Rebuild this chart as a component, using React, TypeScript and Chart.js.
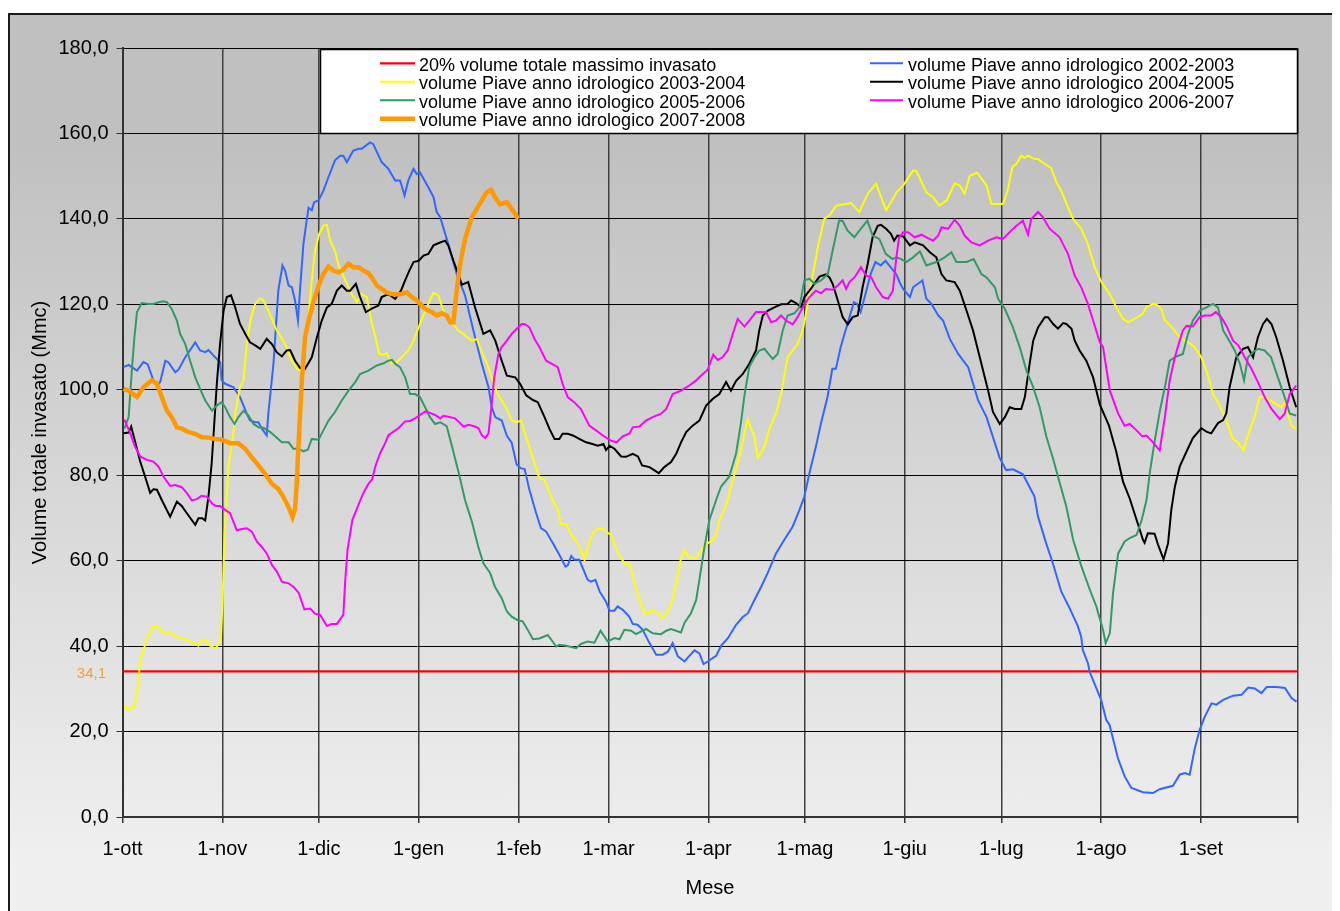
import React, { useEffect, useRef } from "react";
import { Chart, registerables } from "chart.js";

Chart.register(...registerables);

type Pt = [number, number];

// Hydrological year axis: days counted from 1 October
const monthStartDays = [0, 31, 61, 92, 123, 151, 182, 212, 243, 273, 304, 335, 365];
const monthLabels = ["1-ott", "1-nov", "1-dic", "1-gen", "1-feb", "1-mar", "1-apr", "1-mag", "1-giu", "1-lug", "1-ago", "1-set", ""];

const yMin = 0;
const yMax = 180;
const yStep = 20;

const thresholdLevel = 34.1;
const thresholdLabel = "34,1";

const seriesNames = [
  "20% volume totale massimo invasato",
  "volume Piave anno idrologico 2002-2003",
  "volume Piave anno idrologico 2003-2004",
  "volume Piave anno idrologico 2004-2005",
  "volume Piave anno idrologico 2005-2006",
  "volume Piave anno idrologico 2006-2007",
  "volume Piave anno idrologico 2007-2008",
];
const seriesColors = ["#ff0000", "#3366ff", "#ffff00", "#000000", "#339966", "#ff00ff", "#ff9900"];
const seriesWidths = [2.2, 2, 2, 2, 2, 2, 4.5];

const threshold: Pt[] = [[0, thresholdLevel], [365, thresholdLevel]];

const piave0203: Pt[] = [
  [0.3,105.3],[1.9,105.8],[4.5,104.5],[6.5,106.5],[7.8,106],[9.6,102.2],[10.7,101],[11.7,101.8],[13.3,106.8],[14.3,106.4],
  [16.4,104.1],[17.4,104.7],[19.5,107.6],[22.6,111.1],[24.1,109.2],[25.7,108.8],[26.7,109.3],[28.8,107.6],[30.3,106.5],[30.8,102.2],
  [31.9,101.4],[34.5,100.6],[36.5,98.3],[38.6,94.4],[39.6,92.8],[41.2,92.4],[42.2,92.4],[43.3,90.9],[44.8,89.3],[45.3,94.4],
  [46.9,106.1],[48.4,123.2],[49.7,129.1],[50.5,127.9],[51.6,124.4],[52.6,124],[53.6,120.9],[54.5,116.2],[55.2,124],[56.2,134.1],
  [57.2,139.6],[57.8,142.6],[58.8,142],[59.5,143.9],[60.9,144.3],[62.4,146.6],[64,149.8],[66,153.7],[67.6,154.8],[68.6,154.8],
  [69.7,153.3],[71.7,156],[73.3,156.4],[74.3,156.4],[76.9,157.9],[77.9,157.5],[80.5,153.3],[82.6,151.7],[84.7,149],[86.2,149],
  [86.7,147.8],[87.6,145.5],[88.8,149],[90.4,151.7],[91.4,150.5],[92.4,150.9],[95,147.4],[96.6,145.1],[97.6,141.6],[98.7,140.4],
  [101.2,134.1],[103.8,127.1],[106.4,122.1],[109,113.9],[111.6,106.1],[113.7,100.6],[114.7,95.9],[115.8,93.6],[117.8,92.8],[119.4,89.2],
  [120.9,87.6],[122.4,82.6],[123.8,81.6],[124.9,81.5],[126.4,76.6],[128.5,71.1],[130,67.6],[131.6,66.8],[133.7,64.1],[135.7,61.4],
  [137.6,58.6],[138.3,58.9],[139.4,61.1],[140.4,60.2],[141.9,60.2],[144.5,55.5],[145.5,55.1],[146.9,55.5],[148.2,52.8],[150.2,50.4],
  [151.3,48.3],[152.8,48.3],[153.8,49.3],[155.4,48.5],[157.4,46.9],[158.5,45.2],[160,45],[161.6,43.8],[163.7,40.7],[165.8,38],
  [167.8,38],[169.4,38.7],[170.9,40.7],[172.5,37.6],[174.6,36.4],[176.1,37.7],[177.7,39],[179.2,38.3],[180.5,35.8],[181.8,36.4],
  [184.4,37.7],[186,40.1],[188.1,41.9],[190.6,45],[192.7,46.8],[194.3,47.7],[196.3,50.8],[198.4,53.9],[200.4,57.1],[203,61.7],
  [205.6,64.9],[208.2,68],[210.3,71.9],[211.8,75],[213.4,80.5],[215.4,86.7],[217,92.2],[219,98.3],[220.5,104.9],[221.6,104.9],
  [223.1,110],[225.2,115.4],[227.2,120.5],[228.2,120.1],[229.3,118.2],[230.8,122.4],[232.4,127.1],[233.9,129.9],[235.5,129.1],[237,130.2],
  [238.6,128.7],[240.4,127],[241.5,125],[242.5,123.6],[244.6,121.7],[245.6,124],[248.5,125.6],[249.7,121.3],[251.3,120.1],[253.4,117.4],
  [254.9,116.2],[257,111.9],[259.6,108.4],[262.7,105.3],[265.8,97.5],[268.4,93.6],[272.5,84],[274.5,81.2],[276.6,81.4],[279.7,80.2],
  [281.8,77.2],[283.3,75],[284.4,70.3],[286.9,64.1],[289,59.4],[291.6,52.8],[294.2,48.9],[296.8,44.6],[297.8,42.2],[298.3,39.1],
  [299.9,36],[300.4,34.1],[301.9,31.3],[304,27.4],[305.6,22.7],[306.6,21.6],[309.2,13.8],[311.3,9.5],[313.4,6.8],[317,5.8],
  [320.1,5.6],[322.2,6.5],[326.3,7.3],[328.4,9.9],[330,10.3],[331.5,9.9],[333.1,16.1],[334.6,20.4],[336.2,23.5],[338.3,26.6],
  [339.8,26.3],[341.9,27.4],[345,28.4],[347.6,28.6],[349.7,30.3],[351.7,30.1],[353.8,29],[355.4,30.4],[358.5,30.4],[361.1,30.2],
  [363.2,27.8],[364.7,27],
];

const piave0304: Pt[] = [
  [0.6,26.3],[1.7,24.9],[2.7,25.7],[3.7,25.7],[4.8,30.5],[5.5,36.8],[6.5,39.1],[7.9,42.2],[9.6,44.7],[11.2,44.4],
  [12.7,43],[14.8,43],[16.4,42.4],[17.9,41.9],[19.5,41.6],[22,40.7],[23.6,40.1],[24.8,41.5],[25.9,41.3],[27.2,40.1],
  [28.8,39.5],[29.8,40.3],[30.6,42.2],[31.1,50.8],[31.7,66.4],[32.9,82],[34.2,88.3],[35,94.4],[36.5,100.6],[37.6,102.2],
  [38.6,110.7],[39.7,116.2],[41.2,120.1],[42.8,121.4],[43.8,120.9],[45.3,118.5],[47.9,113.9],[50.5,110.7],[52.6,106.8],[54.1,104.9],
  [55.2,104.5],[56.2,106.8],[57.8,117],[58.8,125.6],[59.8,132.6],[61.1,136.5],[62.4,138.4],[63.5,138.6],[64.5,134.9],[66,132.6],
  [67.1,129.1],[69.2,125.6],[71.2,122.4],[72.8,120.5],[74.3,122.4],[75.9,121.7],[77.5,115.4],[78.6,112.3],[79.7,108.4],[81.1,108.2],
  [82.1,108.6],[83.6,106.1],[85.2,106.5],[86.7,107.6],[88.8,109.2],[90.4,111.5],[92.4,115.4],[94.5,119.3],[96.6,122.7],[98.1,122.1],
  [99.7,118.5],[101.8,116.2],[104.3,113.9],[106.4,112.7],[108.5,111.5],[110.1,111.9],[111.6,108.8],[113.2,106.1],[114.7,102.9],[116.3,99.4],
  [117.8,97.5],[119.4,95.5],[120.9,92.8],[122.5,92.4],[123.8,92.8],[125.4,89],[127.5,84],[129.5,79.3],[131.1,78.9],[133.1,75],
  [135.2,71.9],[136.2,68.6],[137.8,68.4],[139.8,65.6],[141.4,64.1],[143.5,60.2],[145,64.5],[146.6,67.1],[148.7,67.6],[150.2,66.8],
  [151.8,66],[153.9,61.7],[156,59.3],[157.5,59.3],[159.1,54.7],[160.6,50.8],[162.2,47.9],[163.2,47.6],[164.7,48.5],[166.3,47.7],
  [167.8,46.5],[169.4,48.1],[170.9,50.8],[172,54.7],[173.5,60.6],[174.6,62.5],[175.9,60.8],[178.2,60.6],[179.7,62.5],[181.3,63.9],
  [182.8,64.5],[184.4,66],[185.4,69.5],[187.4,72.7],[189,77.3],[190.6,81.6],[192.1,85.9],[193.2,89.8],[194.2,93.1],[196.3,89],
  [197.3,84],[199.4,86.7],[201,90.9],[203,94.4],[204.6,99],[206.6,107.6],[208.2,109.2],[209.7,110.7],[211.3,113.9],[212.3,117.8],
  [213.9,124.8],[216,133.4],[218,140],[219.6,140.8],[221.7,143.1],[224.8,143.5],[226.3,143.7],[228.9,141.6],[231.5,145.9],[234.1,148.2],
  [237.2,142],[238.7,143.9],[240.6,146.4],[242.5,147.8],[245.6,151.3],[246.6,151.2],[249.7,146.2],[251.8,145.1],[253.7,143.1],[256,144.3],
  [258.5,148.3],[260.1,147.8],[261.6,145.9],[263.2,150.1],[265.5,150.8],[268.4,147.8],[269.9,143.5],[273.5,143.5],[275.1,147],[276.4,152.1],
  [277.7,152.9],[279.2,154.8],[280.3,154.3],[281.3,154.8],[283.4,154],[284.4,154],[286.4,152.9],[288.5,151.9],[290.1,148.6],[291.6,146.6],
  [293.7,142.7],[295.3,140],[297.8,137.7],[299.9,134.1],[302,128.7],[304.1,125.2],[306.7,122.4],[308.7,119.3],[310.8,116.6],[312.4,115.8],
  [314.9,116.8],[317,117.9],[318,119.3],[320.1,120.1],[321.2,120],[322.7,118.9],[323.7,116.4],[326.3,114.3],[328.4,112.3],[331,111.1],
  [333,110],[335.1,107.6],[337.1,103.7],[338.7,99],[340.3,97.1],[342.4,93.6],[344.9,88.5],[346.5,87.7],[348.2,85.8],[350.1,90.5],
  [351.7,93.6],[353.2,98.3],[354.8,98.4],[356.4,97.5],[358.4,96.7],[360,95.9],[361,97.1],[362,94.4],[363.1,91.6],[364.6,90.9],
];

const piave0405: Pt[] = [
  [0.3,89.8],[1.9,90],[2.7,91.4],[3.9,87.9],[5.5,83.2],[7,79.7],[8.6,75.9],[9.6,76.7],[10.7,76.6],[12.2,74.2],
  [14.8,70.3],[16.9,73.8],[18.4,72.8],[20,71.1],[22.6,68.4],[23.6,69.9],[24.8,69.9],[25.7,69.4],[26.7,75],[27.7,82.8],
  [28.5,92],[29.3,101.4],[30.3,110.7],[31.4,118.5],[32.4,121.7],[33.7,122.1],[35,119.3],[36.5,115.4],[38.1,113.1],[39.6,111.1],
  [41.2,110.4],[42.8,109.6],[44.8,111.9],[46.4,110.7],[47.9,108.8],[49.5,107.8],[51,109.2],[52.1,109.3],[53.6,106.8],[55.2,105.1],
  [56.7,104.9],[58.8,107.6],[60.4,112.3],[61.9,116.2],[63.5,119.3],[65,120.1],[66.6,123.2],[68.1,124.4],[69.7,123.2],[70.7,123.2],
  [72.5,124.8],[73.8,121.7],[75.6,118.2],[77.4,119],[79.5,119.7],[80.5,121.7],[82.6,122.4],[84.7,121.3],[86.5,123.2],[87.8,125.6],
  [89.1,127.9],[90.4,129.9],[92,130.2],[93.5,131.4],[95,131.8],[96.6,133.8],[98.1,134.3],[100.2,134.9],[101.2,133.8],[102.8,130.2],
  [104.3,127.1],[105.4,124.6],[107.4,125.2],[109.5,119.3],[112.1,113.1],[114.2,113.9],[115.8,111.5],[117.8,106.8],[119.4,103.3],[122,102.9],
  [123.5,101.4],[125.4,98.7],[127.5,97.6],[129,97.1],[131.1,93.6],[132.6,90.9],[134.2,88.5],[135.7,88.5],[136.7,89.7],[138.3,89.7],
  [139.9,89.3],[141.9,88.5],[144,87.7],[146,87.3],[147.6,86.9],[149.4,87.3],[150.2,85.9],[151.3,86.9],[152.8,86.2],[154.9,84.4],
  [156.4,84.3],[158.5,85],[160.1,84.4],[161.4,82.3],[163.7,81.9],[166.6,80.5],[168.3,81.9],[170.4,83.1],[172,85],[173.5,87.7],
  [175.1,90.1],[177.1,91.6],[179.2,92.8],[181.3,96.3],[183.4,97.9],[185.4,99],[187.5,101.8],[189,99.8],[190.6,102.1],[192.7,103.7],
  [194.7,106.1],[196.8,109.2],[197.8,113.9],[198.9,117.4],[200.4,118.5],[202.5,119.3],[204.6,120],[206.6,120.1],[207.7,120.9],[209.2,120.3],
  [210.8,119.3],[211.8,121.7],[213.4,123.2],[214.9,124.8],[216.5,126.5],[218.5,127],[219.6,126.3],[220.6,124.8],[222.2,120.9],[223.7,117],
  [225.3,115.3],[226.8,117],[228.4,117.4],[229.9,124],[231.5,129.5],[233,135.7],[234.6,138.4],[235.6,138.6],[237.2,137.7],[238.7,136.5],
  [239.7,134.9],[240.7,136.1],[242.5,135.9],[244.6,133.8],[246.1,134.5],[248.7,133.8],[250.8,132.2],[252.8,131],[254.4,127.1],[255.9,125.6],
  [258.5,125.2],[260.1,123.2],[262.2,118.5],[264.2,113.9],[266.3,107.6],[268.9,99.8],[270.4,94.8],[272.5,92],[274.1,93.6],[275.6,95.9],
  [277.2,95.5],[279.2,95.5],[280.3,98.3],[281.8,106.1],[282.9,111.5],[284.4,114.6],[286.5,117],[287.5,117],[289.1,115.4],[290.6,114.3],
  [292.2,115.6],[293.2,115.4],[294.8,114.3],[295.8,111.5],[297.3,109.2],[299.4,106.8],[301.5,102.9],[303.6,96.5],[306.4,91.7],[308.7,85.5],
  [310.8,78.5],[312.9,74.5],[314.9,69.8],[317,64.9],[317.5,64.2],[318.5,66.4],[320.6,66.3],[321.7,63.7],[323.4,60.3],[324.8,64.1],
  [325.8,71.9],[326.9,77.3],[328.4,82],[330.5,85.5],[332.5,88.7],[335.1,91],[336.7,90.2],[338.2,89.8],[340.3,92.2],[341.9,92.9],
  [342.9,94.5],[343.9,100.6],[346,107.6],[348.1,109.6],[349.6,110],[351.2,107.6],[352.7,112.3],[354.3,115.4],[355.5,116.6],[356.9,115.4],
  [358.4,112.3],[360.5,106.8],[362.6,100.6],[364.6,95.9],
];

const piave0506: Pt[] = [
  [0.6,90.9],[1.9,93.6],[2.9,104.5],[3.7,112.3],[4.5,118.2],[6,120.3],[8.1,120.1],[9.6,120.1],[11.2,120.5],[12.7,120.7],
  [13.8,120.5],[15.3,118.9],[16.9,116.2],[17.9,113.1],[19.5,110.7],[21,106.8],[22.6,102.9],[24.1,100.2],[25.7,97.5],[27.8,95.1],
  [29.3,96.3],[30.8,97.1],[31.9,95.9],[33.4,93.6],[34.8,92],[36,93.6],[37.6,95.1],[39.1,94],[40.7,92],[42.3,91.2],
  [43.8,91.1],[45.9,90.1],[47.4,89.1],[49.5,87.7],[51.6,87.7],[53.1,86.2],[54.7,86.2],[56.2,85.6],[57.6,86],[58.8,88.5],
  [60.9,88.3],[62.4,90.5],[64,92.8],[66,94.8],[68.1,97.5],[70.2,99.8],[72.3,101.8],[73.8,103.7],[76.4,104.5],[79,105.7],
  [81.1,106.2],[82.6,106.8],[83.7,107],[84.7,106.1],[86.2,105.3],[87.8,102.9],[89.3,99],[90.9,99],[92.4,98.3],[94,95.9],
  [95.5,93.6],[97.1,92],[98.7,92.4],[100.7,91.5],[102.5,86.3],[104.5,80.4],[106.4,74.2],[108.5,69.2],[110.5,63.3],[112.1,59.4],
  [114.2,57.1],[115.7,53.9],[117.8,51.2],[119.4,48.1],[120.9,46.9],[122.9,46],[124.3,45.8],[125.9,43.8],[127.5,41.6],[129.5,41.8],
  [132.1,42.6],[133.1,41.6],[134.7,39.9],[135.7,40.3],[137.8,40.1],[140.9,39.5],[142.4,40.5],[144.5,41.1],[146.6,40.8],[148.5,43.6],
  [150.7,41.1],[152.8,41.9],[154.4,41.6],[155.9,43.8],[158,43.6],[159.5,42.8],[162.6,44],[164.7,43],[167.3,42.8],[168.9,43.6],
  [170.4,44],[173.5,43.2],[174.6,45.5],[176.6,47.7],[178.2,50.8],[179.2,55.5],[180.8,63.3],[182.3,69.5],[184.4,74.2],[185.9,77.3],
  [188.5,79.7],[190.6,85.1],[192.1,92.2],[193.2,98.7],[194.7,105.3],[196.3,107.6],[197.8,109.2],[199.4,109.6],[202,107.2],[203.5,108.4],
  [205.1,113.9],[206.6,117.4],[208.7,117.9],[210.3,119.3],[211.8,125.6],[213.4,126],[214.9,124.8],[217,125.6],[219.1,127.1],[220.6,132.6],
  [222.6,139.6],[223.7,139.5],[225.2,137.3],[227.3,135.7],[229.4,137.7],[231.4,139.6],[233,136.1],[235.1,135.3],[237.1,131.8],[239.2,130.6],
  [240.4,131],[241.9,130.6],[243.5,129.9],[245.6,131],[247.7,132.4],[249.7,129.1],[252.8,129.9],[255.4,131],[257.5,132.2],[259,129.9],
  [262.2,129.9],[264.4,130.6],[266.8,127.1],[268.4,126.3],[271,124],[272,121.3],[274.1,118.9],[276.6,114.6],[278.7,110],[280.8,104.5],
  [282.9,100.6],[284.9,95.9],[287,89],[289.1,83.8],[291.1,78.3],[293.2,72.6],[295.3,64.9],[297.9,58.6],[300.5,53.2],[302.5,49.3],
  [304.6,43.8],[305.4,40.7],[306.7,43],[307.7,52.4],[309.3,61.7],[311.3,64.5],[312.9,65.3],[315,66],[316.6,69.5],[318.1,74.2],
  [319.1,80.5],[320.7,88.3],[322.3,95.3],[323.9,101],[325.3,106.8],[327.4,107.8],[329.4,108.4],[331,113.1],[332.5,116.2],[334.6,118.5],
  [336.7,119.3],[338.7,120.1],[340.3,119.3],[341.9,113.9],[343.5,111.9],[345.5,109.2],[347.1,106.1],[348.4,102.2],[349.6,107.6],[351.2,108.8],
  [352.7,109.6],[354.8,109.2],[356.8,107.6],[358.9,102.9],[361,98.3],[362.6,94.4],[364.6,94],
];

const piave0607: Pt[] = [
  [0.6,93],[2.4,89.8],[3.9,86.7],[5.5,84.4],[7.6,83.6],[9.6,83.2],[11.2,82],[12.7,79.7],[14.8,77.5],[16.4,77.7],
  [18.4,77.2],[20,75.8],[21.5,74.1],[23.1,74.4],[24.6,75.2],[26.2,75],[27.8,73.4],[29,72.8],[30.3,72.8],[31.9,71.9],
  [33.4,71.1],[35.5,67.1],[37.1,67.4],[38.6,67.6],[40.2,66.8],[41.7,64.5],[43.3,63.2],[44.8,61.7],[46.4,59],[47.9,57.5],
  [49.5,55.1],[51.6,54.7],[53.1,53.9],[54.7,52.5],[56.5,48.6],[58.3,48.8],[59.8,47.6],[61.4,47.3],[63.5,44.7],[65,45.2],
  [66.6,45.2],[68.6,47.3],[69.2,55.5],[69.9,62.5],[71.4,69.5],[73.1,72.7],[74.8,75.8],[76.4,78],[77.6,79.1],[78.5,82],
  [80,85.1],[81.6,87.5],[82.6,89.4],[84.2,90.2],[85.7,91],[87.8,92.6],[89.3,92.7],[90.9,93.3],[92.4,94.1],[94,94.9],
  [95.5,94.6],[97.1,94.1],[98.7,93.3],[99.7,93.9],[101.2,93.7],[103.3,93.3],[104.3,92.6],[105.9,91.4],[107.5,91.8],[109.5,91.4],
  [110.6,91],[111.6,89.4],[112.7,88.7],[113.7,89.8],[114.5,95.3],[115.5,103],[116.8,108.4],[117.8,110],[119.4,111.5],[120.9,113.1],
  [122.5,114.3],[124,115.4],[124.9,115.4],[126.4,114.6],[128,111.9],[129.5,110],[131.6,106.8],[133.1,106.2],[135.2,105.3],[136.7,101.4],
  [138.3,98.3],[140.3,97.1],[142.4,95.5],[145,91.6],[147.1,90.5],[149.2,89.3],[151.7,88.1],[153.5,87.7],[155.4,89.1],[157.5,89.8],
  [158.5,91.2],[160.6,91.4],[162.6,92.8],[164.7,93.6],[167.3,94.4],[168.9,95.5],[170.9,99],[173.5,99.8],[176.1,101],[178.2,102.2],
  [179.7,103.3],[181.8,104.7],[183.5,108.2],[184.9,107],[186.4,107.6],[188,109.2],[189.6,113.1],[191.1,116.6],[193.2,114.8],[194.7,116.2],
  [196.8,118.2],[198.9,118.2],[199.9,118.2],[201.5,115.8],[203,116.2],[204.6,117.4],[206.1,116.2],[208.2,115.3],[209.7,117],[211.3,119.3],
  [213.4,121.7],[215.4,123.2],[217,122.6],[218.5,123.6],[220.6,123.4],[222.2,124.4],[223.7,125.6],[224.8,123.6],[225.8,125.2],[227.4,126.3],
  [229.4,128.7],[231,126.7],[232.6,126.3],[234.1,124],[236.2,121.7],[237.8,121.3],[239.3,123.2],[240.4,131],[241.2,135.5],[242.5,136.9],
  [244,136.9],[246.1,135.7],[248.2,136.3],[249.7,135.7],[251.8,134.9],[253.4,136.1],[254.4,138],[256.5,137.7],[258.5,139.8],[260.1,138.4],
  [261.6,136.1],[263.7,134.5],[266.3,133.8],[268.9,134.9],[271.5,135.7],[273.5,135.3],[275.6,136.9],[277.7,138.4],[279.7,139.6],[281.3,136.3],
  [282.3,140],[284.4,141.6],[285.9,140.4],[288,137.7],[291.1,135.7],[293.7,131.8],[295.8,126.7],[297.8,124],[299.9,120.1],[301.5,116.2],
  [303.6,111.1],[304.6,110],[306.7,99.8],[309.3,94.4],[311.3,91.6],[312.9,92],[315,90.5],[316.8,89.1],[318.1,89.3],[320.1,87.7],
  [322.2,85.8],[323.8,93.6],[325.3,102.2],[326.9,107.6],[328.4,111.5],[329.4,113.9],[330.5,115],[332.5,114.8],[334.6,117],[336.2,117.4],
  [338.2,117.4],[339.6,118.2],[341.3,117],[342.9,115],[345,111.5],[346.6,110.4],[348.6,107.6],[350.7,104.9],[352.7,101.8],[354.8,98.3],
  [356.9,95.5],[359.5,93.1],[361,94.4],[362.6,99],[364.6,101],
];

const piave0708: Pt[] = [
  [0.3,100.2],[1.9,99.8],[4.5,98.3],[6.5,100.6],[9.1,102.2],[10.7,101.4],[12.2,98.3],[13.8,95.1],[15.3,93.6],[16.9,91.2],
  [18.4,90.9],[20.5,90.1],[22.6,89.7],[24.6,88.9],[26.7,88.8],[28.8,88.5],[30.8,88.3],[33.4,87.5],[36,87.5],[38.1,86.2],
  [40.2,84.2],[42.2,82.3],[44.3,80.3],[46.4,78],[48.4,76.8],[50,74.9],[51.6,72.5],[52.8,70.2],[53.6,72.1],[54.1,78],
  [54.9,90.5],[55.7,102.2],[56.7,112.3],[57.8,116.2],[59.3,120.5],[60.9,124.4],[62.4,127.1],[64,128.8],[65.5,127.9],[67.1,127.5],
  [68.6,128.1],[70.2,129.5],[71.7,128.7],[73.3,128.7],[74.8,127.9],[76.4,127.3],[77.4,126.3],[79,124.4],[80.5,123.6],[82.1,122.8],
  [83.6,122.4],[85.2,122.3],[86.7,122.4],[88.3,122.8],[89.9,121.7],[91.4,120.9],[93,119.7],[94.5,118.7],[96.1,118.2],[97.6,117.4],
  [99.2,117.9],[100.7,117.4],[101.8,115.8],[102.8,115.8],[103.8,123.2],[104.9,129.5],[106.4,135.3],[108.5,140.4],[110,142.3],[111.6,144.3],
  [113.1,146.2],[114.5,146.8],[115.7,145.1],[117.3,143.4],[119.4,143.9],[120.9,142.3],[122,141.2],[122.8,140],
];

const seriesData: Pt[][] = [threshold, piave0203, piave0304, piave0405, piave0506, piave0607, piave0708];

const FONT = "'Liberation Sans', Arial, Helvetica, sans-serif";

// Boxed two-column legend plus the value tag of the threshold line
const boxLegend = {
  id: "boxLegend",
  afterDraw(chart: any) {
    const ctx = chart.ctx as CanvasRenderingContext2D;
    ctx.save();
    const bx0 = 310.5, by0 = 34.5, bx1 = 1287.5, by1 = 118.5;
    ctx.fillStyle = "#ffffff";
    ctx.fillRect(bx0, by0, bx1 - bx0, by1 - by0);
    ctx.strokeStyle = "#000000";
    ctx.lineWidth = 1.5;
    ctx.strokeRect(bx0, by0, bx1 - bx0, by1 - by0);

    ctx.font = `18px ${FONT}`;
    ctx.textAlign = "left";
    ctx.textBaseline = "alphabetic";
    chart.data.datasets.forEach((ds: any, i: number) => {
      const col = i % 2;
      const row = Math.floor(i / 2);
      const lx0 = col === 0 ? 370 : 860;
      const lx1 = col === 0 ? 405 : 893;
      const tx = col === 0 ? 409 : 898;
      const base = 55.7 + row * 18.5;
      ctx.strokeStyle = ds.borderColor;
      ctx.lineWidth = ds.borderWidth;
      ctx.beginPath();
      ctx.moveTo(lx0, base - 7.4);
      ctx.lineTo(lx1, base - 7.4);
      ctx.stroke();
      ctx.fillStyle = "#000000";
      ctx.fillText(ds.label, tx, base);
    });

    const yPix = chart.scales.y.getPixelForValue(thresholdLevel);
    ctx.font = `15px ${FONT}`;
    ctx.fillStyle = "#ff9933";
    ctx.textAlign = "right";
    ctx.textBaseline = "middle";
    ctx.fillText(thresholdLabel, 96, yPix + 3);
    ctx.restore();
  },
};

export default function App() {
  const canvasRef = useRef<HTMLCanvasElement | null>(null);

  useEffect(() => {
    if (!canvasRef.current) return;
    Chart.defaults.font.family = FONT;
    const chart = new Chart(canvasRef.current, {
      type: "line",
      data: {
        datasets: seriesData.map((pts, i) => ({
          label: seriesNames[i],
          data: pts.map(([x, y]) => ({ x, y })),
          borderColor: seriesColors[i],
          backgroundColor: seriesColors[i],
          borderWidth: seriesWidths[i],
          pointRadius: 0,
          tension: 0,
          fill: false,
          order: seriesData.length - i,
        })),
      },
      options: {
        responsive: false,
        maintainAspectRatio: false,
        devicePixelRatio: 1,
        animation: false,
        events: [],
        layout: { padding: { left: 0, top: 33, right: 34.5, bottom: 0 } },
        plugins: {
          legend: { display: false },
          tooltip: { enabled: false },
          title: { display: false },
        },
        scales: {
          x: {
            type: "linear",
            min: monthStartDays[0],
            max: monthStartDays[monthStartDays.length - 1],
            afterBuildTicks: (scale: any) => {
              scale.ticks = monthStartDays.map((v) => ({ value: v }));
            },
            afterFit: (scale: any) => {
              scale.height = 96;
            },
            ticks: {
              autoSkip: false,
              maxRotation: 0,
              padding: 14,
              color: "#000000",
              font: { size: 20 },
              callback: (v: any) => {
                const idx = monthStartDays.indexOf(Number(v));
                return idx >= 0 ? monthLabels[idx] : "";
              },
            },
            grid: {
              color: "#404040",
              lineWidth: 1.5,
              tickLength: 6,
              tickColor: "#333333",
            },
            border: { display: true, color: "#333333", width: 2 },
            title: {
              display: true,
              text: "Mese",
              color: "#000000",
              font: { size: 20 },
              padding: { top: 0, bottom: 13 },
            },
          },
          y: {
            min: yMin,
            max: yMax,
            afterFit: (scale: any) => {
              scale.width = 112.5;
            },
            ticks: {
              stepSize: yStep,
              padding: 8,
              color: "#000000",
              font: { size: 20 },
              callback: (v: any) => Number(v).toFixed(1).replace(".", ","),
            },
            grid: {
              color: "#000000",
              lineWidth: 1,
              tickLength: 6,
              tickColor: "#333333",
            },
            border: { display: true, color: "#333333", width: 2 },
            title: {
              display: true,
              text: "Volume totale invasato (Mmc)",
              color: "#000000",
              font: { size: 20 },
              padding: { top: 18, bottom: 0 },
            },
          },
        },
      },
      plugins: [boxLegend],
    } as any);
    return () => chart.destroy();
  }, []);

  return (
    <>
      <style>{"html,body{overflow:hidden}"}</style>
      <div
        style={{
          marginTop: 5,
          width: 1322,
          height: 898,
          border: "2px solid #1a1a1a",
          background: "linear-gradient(to bottom, #c0c0c0 0%, #c0c0c0 14%, #efefef 93%, #f0f0f0 100%)",
        }}
      >
        <canvas ref={canvasRef} width={1322} height={898} style={{ display: "block" }} />
      </div>
    </>
  );
}
